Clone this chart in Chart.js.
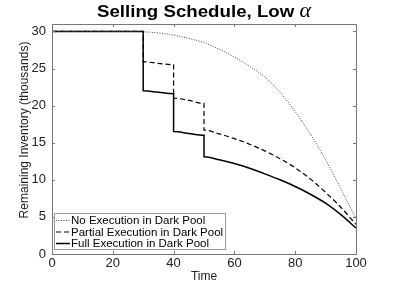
<!DOCTYPE html>
<html>
<head>
<meta charset="utf-8">
<script src="https://cdn.jsdelivr.net/npm/chart.js@4"></script>
<style>
  body { margin: 0; background: #fff; }
  #wrap { width: 393px; height: 287px; }
</style>
</head>
<body>
<div id="wrap"><canvas id="c"></canvas></div>
<script>
Chart.defaults.font.family = "'Liberation Sans', Arial, sans-serif";
Chart.defaults.color = '#222';

const AXIS = '#777';
const FONT = "'Liberation Sans', Arial, sans-serif";

// time axis / tick values
const xTicks = [0, 20, 40, 60, 80, 100];
const yTicks = [0, 5, 10, 15, 20, 25, 30];

// no execution in dark pool (dotted)
const noneT = [0, 10, 20, 30, 35, 40, 45, 50, 55, 60, 65, 70, 75, 80, 85, 90, 95, 100];
const noneV = [30, 30, 30, 29.95, 29.8, 29.5, 29.05, 28.5, 27.6, 26.55, 25.3, 23.85, 21.8, 19.2, 16.15, 12.7, 8.8, 4.75];

// partial execution (dashed)
const partT = [0, 30, 30, 35, 40, 40, 45, 50, 50, 55, 60, 65, 70, 75, 80, 85, 90, 95, 100];
const partV = [30, 30, 25.9, 25.7, 25.5, 21.0, 20.7, 20.3, 16.7, 16.2, 15.55, 14.8, 13.9, 12.85, 11.6, 10.1, 8.3, 6.3, 4.0];

// full execution (solid)
const fullT = [0, 30, 30, 35, 40, 40, 45, 50, 50, 55, 60, 65, 70, 75, 80, 85, 90, 95, 100];
const fullV = [30, 30, 22.0, 21.8, 21.6, 16.5, 16.25, 16.0, 13.1, 12.7, 12.2, 11.55, 10.8, 10.0, 9.1, 8.05, 6.85, 5.3, 3.5];

const labels = ['No Execution in Dark Pool', 'Partial Execution in Dark Pool', 'Full Execution in Dark Pool'];

const pts = (t, v) => t.map((x, i) => ({ x: x, y: v[i] }));

const boxPlugin = {
    id: 'box',
    afterDraw(chart) {
        const { ctx, chartArea: a, scales: { x, y } } = chart;
        ctx.save();
        ctx.strokeStyle = AXIS;
        ctx.lineWidth = 1;
        ctx.strokeRect(Math.round(a.left) + 0.5, Math.round(a.top) + 0.5,
            Math.round(a.right - a.left), Math.round(a.bottom - a.top));
        ctx.beginPath();
        xTicks.forEach(v => {
            const px = Math.round(x.getPixelForValue(v)) + 0.5;
            ctx.moveTo(px, a.bottom); ctx.lineTo(px, a.bottom - 3);
            ctx.moveTo(px, a.top); ctx.lineTo(px, a.top + 3);
        });
        yTicks.forEach(v => {
            const py = Math.round(y.getPixelForValue(v)) + 0.5;
            ctx.moveTo(a.left, py); ctx.lineTo(a.left + 3, py);
            ctx.moveTo(a.right, py); ctx.lineTo(a.right - 3, py);
        });
        ctx.stroke();

        // legend box in lower left corner
        const lx = 54.5, ly = 213.5, lw = 171, lh = 36;
        ctx.fillStyle = '#fff';
        ctx.fillRect(lx, ly, lw, lh);
        ctx.strokeStyle = '#999';
        ctx.strokeRect(lx, ly, lw, lh);
        ctx.font = '11.5px ' + FONT;
        ctx.textBaseline = 'middle';
        ctx.fillStyle = '#000';
        const rows = [220.5, 232, 243.5];
        chart.data.datasets.forEach((ds, i) => {
            ctx.beginPath();
            ctx.strokeStyle = ds.borderColor;
            ctx.lineWidth = ds.borderWidth;
            ctx.setLineDash(ds.borderDash || []);
            ctx.moveTo(56, rows[i]); ctx.lineTo(70, rows[i]);
            ctx.stroke();
            ctx.setLineDash([]);
            ctx.fillText(ds.label, 71, rows[i] + 0.5);
        });

        // y axis title
        ctx.save();
        ctx.translate(25, 130);
        ctx.rotate(-Math.PI / 2);
        ctx.font = '12px ' + FONT;
        ctx.textAlign = 'center';
        ctx.fillStyle = '#222';
        ctx.fillText('Remaining Inventory (thousands)', 0, 0);
        ctx.restore();

        // title with italic alpha, slightly wide like the original
        const t1 = 'Selling Schedule, Low ';
        const bold = 'bold 17px ' + FONT;
        const ital = "italic 20px 'Liberation Serif', 'DejaVu Serif', serif";
        const stretch = 1.1;
        ctx.font = bold;
        const w1 = ctx.measureText(t1).width;
        ctx.font = ital;
        const w2 = ctx.measureText('α').width;
        const total = (w1 + w2) * stretch;
        ctx.save();
        ctx.translate((a.left + a.right) / 2 - total / 2, 17);
        ctx.scale(stretch, 1);
        ctx.textBaseline = 'alphabetic';
        ctx.fillStyle = '#000';
        ctx.font = bold;
        ctx.fillText(t1, 0, 0);
        ctx.font = ital;
        ctx.fillText('α', w1, 0);
        ctx.restore();
        ctx.restore();
    }
};

new Chart(document.getElementById('c'), {
    type: 'line',
    data: {
        datasets: [
            {
                label: labels[0], data: pts(noneT, noneV),
                borderColor: '#444', borderWidth: 1, borderDash: [1, 1.5],
                pointRadius: 0, cubicInterpolationMode: 'monotone'
            },
            {
                label: labels[1], data: pts(partT, partV),
                borderColor: '#000', borderWidth: 1.2, borderDash: [5, 3],
                pointRadius: 0, cubicInterpolationMode: 'monotone'
            },
            {
                label: labels[2], data: pts(fullT, fullV),
                borderColor: '#000', borderWidth: 1.5,
                pointRadius: 0, cubicInterpolationMode: 'monotone'
            }
        ]
    },
    options: {
        responsive: true, maintainAspectRatio: false, animation: false,
        layout: { padding: { left: 0, right: 37, top: 24, bottom: 0 } },
        plugins: { legend: { display: false }, tooltip: { enabled: false } },
        scales: {
            x: {
                type: 'linear', min: 0, max: 100,
                afterFit: s => { s.height = 33; },
                afterBuildTicks: s => { s.ticks = xTicks.map(v => ({ value: v })); },
                grid: { display: false, drawTicks: false }, border: { display: false },
                ticks: { padding: 2, font: { size: 13 }, color: '#222' },
                title: { display: true, text: 'Time', font: { size: 12 }, padding: { top: 0, bottom: 3 }, color: '#222' }
            },
            y: {
                min: 0, max: 31,
                afterFit: s => { s.width = 52; },
                afterBuildTicks: s => { s.ticks = yTicks.map(v => ({ value: v })); },
                grid: { display: false, drawTicks: false }, border: { display: false },
                ticks: { padding: 6, font: { size: 13 }, color: '#222' }
            }
        }
    },
    plugins: [boxPlugin]
});
</script>
</body>
</html>
